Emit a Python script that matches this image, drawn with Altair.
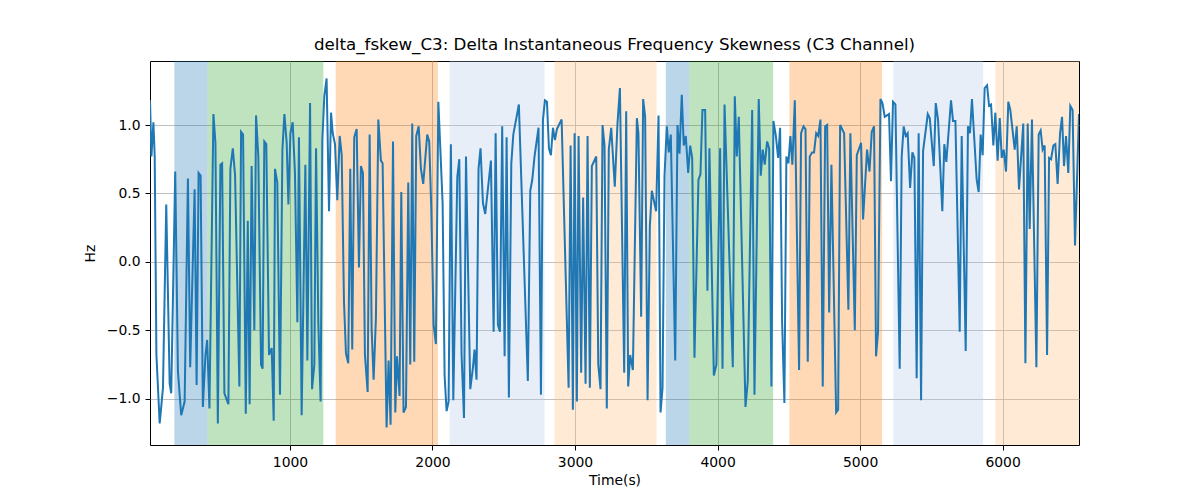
import altair as alt
import pandas as pd

# time axis (s) and the skewness values
time_s = [
    18, 28, 42, 51, 63, 86, 109, 132, 156, 167, 195, 214, 237, 261, 284, 300, 331, 345, 359, 373,
    389, 407, 419, 435, 463, 477, 494, 512, 524, 540, 568, 582, 599, 615, 645, 657, 671, 690, 704, 717,
    731, 750, 762, 778, 797, 808,
    820, 834, 853, 872, 886, 895, 911, 930, 947, 961, 977, 989, 1003, 1019, 1035, 1052, 1063, 1082, 1108, 1122,
    1141, 1155, 1171, 1183, 1199, 1215, 1227, 1241, 1257, 1274, 1288, 1300, 1316, 1332, 1349, 1363, 1379, 1393, 1409, 1423,
    1437, 1451, 1468, 1484, 1498, 1512, 1526, 1545, 1559, 1573, 1587, 1603, 1620, 1638,
    1650, 1678, 1692, 1706, 1723, 1739, 1751, 1769, 1781, 1797, 1814, 1830, 1844, 1858, 1872, 1886, 1903, 1919, 1935, 1963,
    1977, 1991, 2008, 2024, 2041, 2071, 2085, 2099, 2113, 2129, 2146, 2174, 2188, 2204, 2221, 2235, 2265, 2284, 2295, 2309,
    2323, 2337, 2354, 2370, 2410, 2429, 2443, 2459,
    2473, 2489, 2506, 2520, 2536, 2553, 2567, 2606, 2669, 2686, 2700, 2716, 2744, 2761, 2775, 2789, 2803, 2817, 2831, 2845,
    2859, 2873, 2906, 2955, 2969, 2985, 2997, 3013, 3025, 3043, 3057, 3074, 3088, 3104, 3118, 3149, 3163, 3179, 3193, 3207,
    3223, 3237, 3254, 3279,
    3298, 3315, 3345, 3359, 3373, 3387, 3406, 3434, 3445, 3464, 3478, 3492, 3509, 3525, 3539, 3569, 3586, 3600, 3614, 3628,
    3644, 3658, 3672, 3703, 3719, 3733, 3749, 3763, 3777, 3794, 3808, 3822, 3838, 3866, 3880, 3894, 3913, 3929, 3943, 3974,
    3992, 4018, 4035, 4049,
    4107, 4121, 4135, 4149, 4196, 4212, 4243, 4259, 4289, 4303, 4317, 4331, 4348, 4362, 4378, 4392, 4409, 4425, 4439, 4453,
    4469, 4483, 4497, 4511, 4525, 4542, 4572, 4586, 4603, 4617, 4633, 4647, 4663, 4677, 4692, 4706, 4722, 4738, 4755, 4769,
    4783, 4799, 4832, 4846, 4860, 4888, 4918,
    4932, 4963, 4977, 5007, 5021, 5049, 5066, 5082, 5098, 5112, 5126, 5143, 5157, 5173, 5203, 5217, 5231, 5248, 5278, 5292,
    5306, 5320, 5334, 5351, 5367, 5381, 5397, 5411, 5428, 5442, 5475, 5489, 5517, 5531, 5547, 5577, 5591, 5605, 5638, 5652,
    5669, 5699, 5713, 5741,
    5757, 5771, 5785, 5818, 5832, 5846, 5860, 5874, 5891, 5905, 5919, 5935, 5949, 5965, 5980, 5994, 6008, 6024, 6040, 6054,
    6085, 6099, 6115, 6145, 6160, 6176, 6190, 6206, 6237, 6253, 6267, 6281, 6295, 6312, 6326, 6340, 6356, 6370, 6386, 6403,
    6417, 6431, 6445, 6461, 6475, 6491, 6508, 6536,
]
hz = [
    1.18, 0.77, 1.02, 0.77, -0.68, -1.18, -0.92, 0.42, -0.89, -0.96, 0.66, -0.80, -1.12, -1.02, 0.61, -0.77, 0.53, -0.90, 0.65, 0.63,
    -1.06, -0.68, -0.57, -1.07, 1.08, 0.87, -1.18, 0.71, 0.72, -0.96, -1.04, 0.68, 0.83, 0.63, -0.91, 0.95, 0.93, -1.11, 0.30, -1.04,
    0.70, -0.50, 1.07, 0.77, -0.75, -0.78,
    0.88, 0.86, -0.68, -0.63, -1.16, 0.68, 0.58, -0.97, 0.82, 1.08, 0.87, 0.42, 0.94, 1.02, 0.65, -0.44, 0.91, -1.12, 0.71, -0.72,
    1.16, -0.93, -0.75, 0.83, -0.44, -1.02, 0.89, 1.21, 1.34, 0.37, 1.09, 0.94, 0.86, 0.45, 0.92, 0.78, -0.29, -0.67, -0.74, 0.68,
    -0.64, 0.91, 0.97, -0.04, 0.70, 0.65, -0.68, -0.95, 0.93, -0.49, -0.86, -0.41, 1.04, 0.74,
    0.72, -1.21, -0.72, -1.19, 0.88, -1.10, -0.69, -0.98, 0.51, -1.10, -1.06, 0.58, -0.75, 1.01, -0.73, 0.92, 0.99, 0.68, 0.57, 0.93,
    0.88, 0.41, -0.46, -0.60, 1.17, 0.43, -0.83, -1.09, -1.02, 0.86, -1.01, 0.62, 0.75, -0.68, -1.14, 0.77, -0.93, -0.77, -0.64, -0.86,
    0.68, 0.83, 0.43, 0.35, 0.74, -0.51, 0.94, -0.46,
    -0.51, 0.99, -0.69, 0.91, -0.99, 0.72, 0.93, 1.15, -0.87, 0.52, 0.60, 0.77, 0.98, -0.97, 1.04, 1.18, 1.17, 0.83, 0.78, 0.98,
    0.89, 0.97, 1.04, -0.92, 0.85, -1.08, 0.94, -1.02, 0.92, -0.81, 0.47, -0.89, 0.92, -0.92, 0.70, 0.77, -0.75, -0.93, 1.00, 0.85,
    -1.07, 0.82, 0.98, 0.55,
    1.01, 1.27, -0.81, 1.10, -0.91, -0.68, -0.79, 1.05, 0.94, -0.40, 1.19, 1.06, -1.01, 0.26, 0.52, 0.37, 1.07, -1.10, -0.92, 0.63,
    0.99, 0.80, 0.93, -0.72, 1.00, 0.79, 1.22, 0.85, 0.92, 0.65, 0.85, 0.76, -0.70, 0.60, 0.64, 1.11, 1.11, -0.21, 0.83, -0.83,
    -0.75, 0.83, -0.78, 1.15,
    -0.77, 1.21, 0.77, 1.06, -1.06, -0.87, 1.11, -0.97, 1.19, 0.63, 0.82, 0.71, 0.88, 0.83, -0.91, 1.03, 0.92, 0.76, 0.98, -0.44,
    -1.03, 0.77, 0.72, 0.92, 0.71, 1.18, -0.79, 0.94, 0.99, 0.97, -0.73, 0.77, 0.80, 0.80, 0.94, 0.92, 1.04, -0.91, 0.99, 1.00,
    -0.37, 0.71, -1.10, -1.08, 1.00, 0.94, -0.35,
    0.94, -0.50, 0.78, 0.87, 0.31, 0.82, 0.66, 0.95, 0.99, -0.69, -0.51, 1.19, 1.16, 1.06, 1.08, 0.59, 1.17, 1.15, -0.78, 0.77,
    0.99, 0.92, 0.94, 0.54, 0.80, 0.76, -0.85, 0.94, -1.01, 0.81, 1.08, 1.05, 0.70, 1.16, 1.04, 0.37, 0.86, 0.73, 1.18, 1.03,
    1.03, -0.51, 0.92, -0.65,
    0.99, 0.94, 1.19, 0.60, 0.51, 0.93, 0.78, 1.27, 1.29, 1.14, 1.15, 0.85, 1.09, 0.74, 1.05, 0.76, 0.82, 0.66, 1.17, 1.11,
    0.82, 0.99, 0.53, 1.01, -0.74, 1.01, 0.24, 1.04, -0.77, 0.93, 0.96, 0.82, 0.85, -0.68, 0.76, 0.75, 0.85, 0.86, 0.57, 0.94,
    1.06, 0.70, 0.92, 0.65, 1.14, 1.11, 0.12, 1.08,
]

# shaded segments behind the trace
span_start = [189, 422, 1321, 2120, 2856, 3637, 3801, 4504, 5234, 5949]
span_end = [422, 1234, 2038, 2786, 3572, 3801, 4390, 5154, 5863, 6600]
span_kind = ["blue", "green", "orange", "lightblue", "lightorange",
             "blue", "green", "orange", "lightblue", "lightorange"]
kind_names = ["blue", "green", "orange", "lightblue", "lightorange"]
kind_colors = ["#1f77b4", "#2ca02c", "#ff7f0e", "#aec7e8", "#ffbb78"]

x_ticks = [1000, 2000, 3000, 4000, 5000, 6000]
y_ticks = [-1.0, -0.5, 0.0, 0.5, 1.0]

series = pd.DataFrame({"t": time_s, "hz": hz})
spans = pd.DataFrame({"start": span_start, "end": span_end, "kind": span_kind})

x_scale = alt.Scale(domain=[time_s[0], time_s[-1]], nice=False, zero=False)
y_scale = alt.Scale(domain=[-1.3375, 1.4675], nice=False, zero=False)
x_axis = alt.Axis(title="Time(s)", values=x_ticks, format="d", grid=True)
y_axis = alt.Axis(title="Hz", values=y_ticks, format=".1f", grid=True)

bands = alt.Chart(spans).mark_rect(opacity=0.3, clip=True).encode(
    x=alt.X("start:Q", scale=x_scale, axis=x_axis),
    x2="end:Q",
    color=alt.Color("kind:N", scale=alt.Scale(domain=kind_names, range=kind_colors), legend=None),
)

trace = alt.Chart(series).mark_line(color="#1f77b4", strokeWidth=2, clip=True).encode(
    x=alt.X("t:Q", scale=x_scale, axis=x_axis),
    y=alt.Y("hz:Q", scale=y_scale, axis=y_axis),
)

chart = alt.layer(bands, trace).properties(
    width=929,
    height=384,
    padding={"left": 75, "top": 29, "right": 10, "bottom": 5},
    title="delta_fskew_C3: Delta Instantaneous Frequency Skewness (C3 Channel)",
).configure_axis(
    labelFont="DejaVu Sans",
    titleFont="DejaVu Sans",
    labelFontSize=13.9,
    titleFontSize=13.9,
    titleFontWeight="normal",
    labelColor="black",
    titleColor="black",
    tickColor="black",
    tickSize=5,
    tickWidth=1,
    labelPadding=5,
    gridColor="#b0b0b0",
    gridWidth=0.8,
    domain=False,
).configure_axisX(
    titlePadding=5,
).configure_axisY(
    titlePadding=9,
).configure_view(
    stroke="black",
    strokeWidth=1,
).configure_title(
    font="DejaVu Sans",
    fontSize=16.7,
    fontWeight="normal",
    color="black",
    offset=7,
)

chart.save("out.html", embed_options={"renderer": "svg", "actions": False})
